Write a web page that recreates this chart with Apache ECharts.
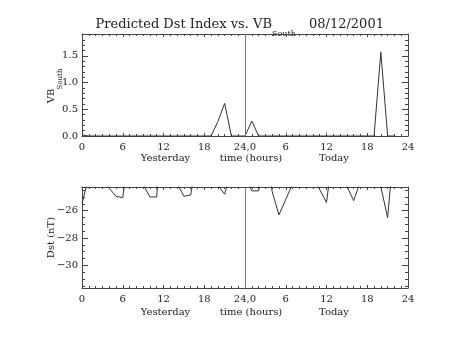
<!DOCTYPE html>
<html>
<head>
<meta charset="utf-8">
<script src="https://cdn.jsdelivr.net/npm/echarts@6/dist/echarts.min.js"></script>
<style>
html,body{margin:0;padding:0;background:#fff;}
#chart{width:454px;height:341px;}
</style>
</head>
<body>
<div id="chart"></div>
<script>
// Hours: 0-24 = yesterday, 24-48 = today
const hours = [0,1,2,3,4,5,6,7,8,9,10,11,12,13,14,15,16,17,18,19,20,21,22,23,24,25,26,27,28,29,30,31,32,33,34,35,36,37,38,39,40,41,42,43,44,45,46];
const vbSouth = [0.02, 0,0,0,0,0,0,0,0,0,0, 0,0,0,0,0,0,0,0,0, 0.27, 0.61, 0, 0, 0, 0.28, 0, 0,0,0,0,0,0,0,0,0,0, 0,0,0,0,0,0,0, 1.57, 0, 0];
const dst = [-25.5,-23.45,-23.5,-23.6,-24.35,-24.95,-25.05,-21.1,-22.0,-24.1,
             -25.0,-25.0,-18.0,-22.0,-24.0,-24.95,-24.85,-22.0,-22.5,-23.0,
             -24.14,-24.8,-23.0,-23.0,-23.4,-24.55,-24.55,-21.0,-24.6,-26.31,
             -25.18,-24.05,-23.5,-23.5,-23.5,-24.46,-25.4,-21.6,-23.0,-24.2,
             -25.27,-23.84,-23.5,-23.5,-24.25,-26.51,-20.9];
const xTickLabels = ['0','6','12','18','24,0','6','12','18','24'];
const xTickValues = [0,6,12,18,24,30,36,42,48];
const xSubLabels = ['Yesterday','time (hours)','Today'];

const FONT = 'DejaVu Serif';
const AX = '#444';

function makeX(gi, pos, labels) {
  return {
    type:'value', gridIndex:gi, position:pos, min:0, max:48, interval:6,
    axisLine:{show:true, onZero:false, lineStyle:{color:AX, width:1}},
    axisTick:{show:true, inside:true, length:3, lineStyle:{color:AX}},
    minorTick:{show:true, splitNumber:6, length:2, lineStyle:{color:AX}},
    splitLine:{show:false}, minorSplitLine:{show:false},
    axisLabel:{show:labels, margin:6, fontFamily:FONT, fontSize:10, color:'#222',
      formatter:function(v){ const i = xTickValues.indexOf(v); return i>=0 ? xTickLabels[i] : ''; }}
  };
}
function makeY(gi, pos, labels, opts) {
  return Object.assign({
    type:'value', gridIndex:gi, position:pos,
    axisLine:{show:true, onZero:false, lineStyle:{color:AX, width:1}},
    axisTick:{show:true, inside:true, length:6, lineStyle:{color:AX}},
    splitLine:{show:false}, minorSplitLine:{show:false},
    axisLabel:{show:labels, margin:4, fontFamily:FONT, fontSize:10, color:'#222',
      showMinLabel: opts.showMin, showMaxLabel:false,
      formatter:function(v){ return (v<0?'\u2212':'') + Math.abs(v).toFixed(opts.dec); }}
  }, opts.axis);
}

const topY = {min:0, max:1.91, interval:0.5, minorTick:{show:true, splitNumber:5, length:3, lineStyle:{color:AX}}};
const botY = {min:-31.65, max:-24.27, splitNumber:4, minorTick:{show:true, splitNumber:4, length:3, lineStyle:{color:AX}}};

const markLine24 = {silent:true, symbol:'none', label:{show:false},
  lineStyle:{color:'#777', type:'solid', width:1}, emphasis:{disabled:true}, data:[{xAxis:24}]};

const txt = (x,y,text,size,extra) => Object.assign({type:'text', x:x, y:y, silent:true,
  style:Object.assign({text:text, font:size+'px "'+FONT+'"', fill:'#222', textAlign:'center', textVerticalAlign:'middle'}, extra||{})});

const chart = echarts.init(document.getElementById('chart'), null, {renderer:'canvas'});
chart.setOption({
  animation:false,
  backgroundColor:'#fff',
  grid:[{left:82, top:34, width:326, height:102},{left:82, top:187, width:326, height:101}],
  xAxis:[makeX(0,'bottom',true), makeX(0,'top',false), makeX(1,'bottom',true), makeX(1,'top',false)],
  yAxis:[makeY(0,'left',true,{dec:1, showMin:true, axis:topY}), makeY(0,'right',false,{dec:1, showMin:true, axis:topY}),
         makeY(1,'left',true,{dec:0, showMin:false, axis:botY}), makeY(1,'right',false,{dec:0, showMin:false, axis:botY})],
  series:[
    {type:'line', xAxisIndex:0, yAxisIndex:0, data:hours.map((h,i)=>[h, vbSouth[i]]), symbol:'none',
     lineStyle:{color:'#333', width:1}, clip:true, markLine:markLine24},
    {type:'line', xAxisIndex:2, yAxisIndex:2, data:hours.map((h,i)=>[h, dst[i]]), symbol:'none',
     lineStyle:{color:'#333', width:1}, clip:true, markLine:markLine24}
  ],
  graphic:[
    txt(272, 25, 'Predicted Dst Index vs. VB', 13, {textAlign:'right'}),
    txt(272, 34, 'South', 8, {textAlign:'left'}),
    txt(309, 25, '08/12/2001', 13, {textAlign:'left'}),
    Object.assign(txt(51, 96, 'VB', 10), {rotation:Math.PI/2}),
    Object.assign(txt(60, 79, 'South', 7), {rotation:Math.PI/2}),
    Object.assign(txt(51, 237.5, 'Dst (nT)', 10), {rotation:Math.PI/2}),
    txt(165.5, 158.5, xSubLabels[0], 10),
    txt(251, 158.5, xSubLabels[1], 10),
    txt(334, 158.5, xSubLabels[2], 10),
    txt(165.5, 312.5, xSubLabels[0], 10),
    txt(251, 312.5, xSubLabels[1], 10),
    txt(334, 312.5, xSubLabels[2], 10)
  ]
});
</script>
</body>
</html>
